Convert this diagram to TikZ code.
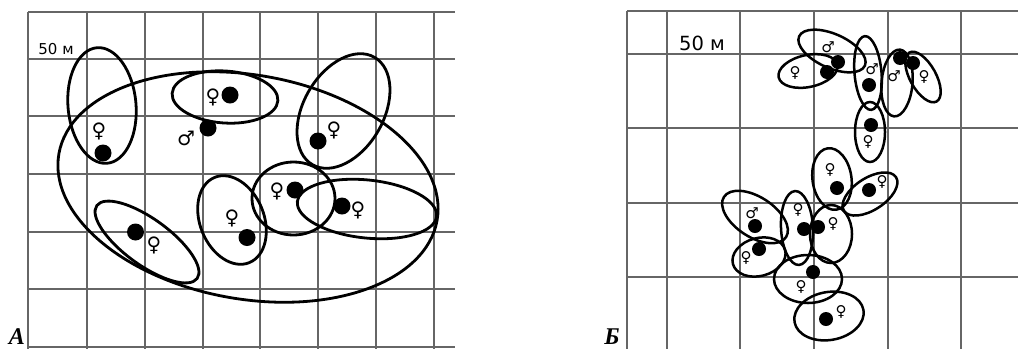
\documentclass[tikz,border=0pt]{standalone}
\usepackage{fontspec}
\setmainfont{DejaVu Sans}
\newfontfamily\labfont{Liberation Serif}
\definecolor{gridgray}{rgb}{0.40,0.40,0.40}
\newcommand{\ovl}[6][ringA]{\draw[#1,shift={(#2,#3)},rotate=#6] (0,0) ellipse ({#4pt} and {#5pt});}
\begin{document}
\begin{tikzpicture}[x=1pt,y=-1pt,
  gridln/.style={draw=gridgray,line width=1.4pt},
  ringA/.style={draw=black,line width=2.8pt},
  ringB/.style={draw=black,line width=2.5pt},
  dotA/.style={fill=black},
  symA/.style={inner sep=0pt,font=\fontsize{20}{20}\selectfont},
  symB/.style={inner sep=0pt,font=\fontsize{15}{15}\selectfont},
  panellab/.style={inner sep=0pt,anchor=base,font=\labfont\bfseries\itshape\fontsize{24}{24}\selectfont}]
\useasboundingbox (0,0) rectangle (1019,349);
% ---------- grid A
\foreach \x in {28,87,145,203,260,318,376,434} \draw[gridln] (\x,12) -- (\x,349);
\foreach \y in {12,59,116,174,232,289,347} \draw[gridln] (28,\y) -- (455,\y);
% ---------- grid B
\foreach \x in {627,667,740,814,888,961} \draw[gridln] (\x,11) -- (\x,349);
\foreach \y in {11,54,128,203,277} \draw[gridln] (627,\y) -- (1018,\y);
% ---------- labels
\node[inner sep=0pt,font=\fontsize{15}{15}\selectfont] (scA) at (56,49) {50 м};
\node[inner sep=0pt,font=\fontsize{19.5}{19.5}\selectfont] (scB) at (702,43) {50 м};
\node[panellab] (labA) at (17,344) {А};
\node[panellab] (labB) at (612,344) {Б};
% ---------- ellipses A
\ovl{248}{187}{192}{112}{-10}
\ovl{102}{105.5}{34}{58}{5}
\ovl{225}{97}{53}{26}{-4}
\ovl{343.5}{111}{62}{40}{60}
\ovl{147}{242}{62}{23}{-36}
\ovl{232}{220}{46}{32}{112}
\ovl{293.5}{198.5}{41.5}{36.5}{0}
\ovl{367}{209}{70}{29}{-6}
% dots A
\foreach \p in {(103,153),(230,95),(208,128),(318,141),(135.5,232),(247,237.5),(295,190),(342,206)}
  \fill[dotA] \p circle (8.5pt);
% symbols A
\node[symA] (mA1) at (186,138) {♂};
\node[symA] (fA1) at (99,131) {♀};
\node[symA] (fA2) at (213,97) {♀};
\node[symA] (fA3) at (334,130) {♀};
\node[symA] (fA4) at (154,245) {♀};
\node[symA] (fA5) at (232,218) {♀};
\node[symA] (fA6) at (277,191) {♀};
\node[symA] (fA7) at (358,210) {♀};
% ---------- ellipses B
\ovl[ringB]{832}{51}{36}{17}{-24}
\ovl[ringB]{808}{71}{30}{16}{12}
\ovl[ringB]{868}{73}{13.5}{37}{5}
\ovl[ringB]{897}{83}{15.5}{33.5}{-5}
\ovl[ringB]{923}{77}{28}{13}{-61}
\ovl[ringB]{870}{132}{15}{30}{0}
\ovl[ringB]{832}{179}{19.5}{31}{8}
\ovl[ringB]{870}{194}{31}{16}{33}
\ovl[ringB]{755}{217}{37}{20}{-33}
\ovl[ringB]{759}{257}{27}{19}{15}
\ovl[ringB]{797}{228}{16}{37}{3}
\ovl[ringB]{831}{234}{21}{29}{0}
\ovl[ringB]{808}{279}{34}{24}{0}
\ovl[ringB]{829}{316}{35}{24}{10}
% dots B
\foreach \p in {(838,62),(827,72),(869,85),(900,58),(913,63),(871,125),(837,188),(869,190),(755,226),(759,249),(804,229),(818,227),(813,272),(826,319)}
  \fill[dotA] \p circle (7pt);
% symbols B
\node[symB] (mB1) at (828,47) {♂};
\node[symB] (mB2) at (872,69) {♂};
\node[symB] (mB3) at (894,76) {♂};
\node[symB] (mB4) at (752,213) {♂};
\node[symB] (fB1) at (795,73) {♀};
\node[symB] (fB2) at (924,77) {♀};
\node[symB] (fB3) at (868,142) {♀};
\node[symB] (fB4) at (830,170) {♀};
\node[symB] (fB5) at (882,182) {♀};
\node[symB] (fB6) at (746,258) {♀};
\node[symB] (fB7) at (798,210) {♀};
\node[symB] (fB8) at (833,224) {♀};
\node[symB] (fB9) at (801,287) {♀};
\node[symB] (fB10) at (841,312) {♀};
\end{tikzpicture}
\end{document}
